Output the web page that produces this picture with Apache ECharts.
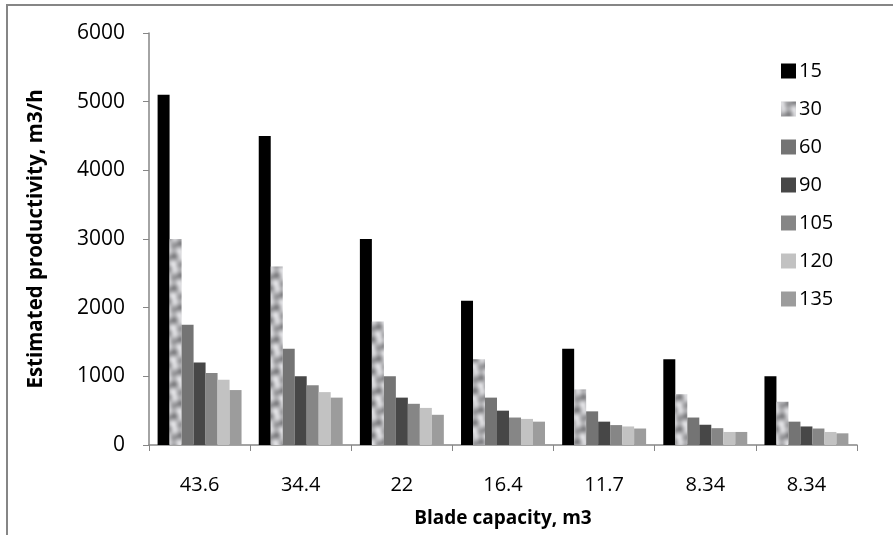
<!DOCTYPE html>
<html>
<head>
<meta charset="utf-8">
<title>Blade capacity</title>
<script src="https://cdn.jsdelivr.net/npm/echarts@6/dist/echarts.min.js"></script>
<style>
  html, body { margin: 0; padding: 0; background: #fff; }
  #main { width: 893px; height: 535px; }
</style>
</head>
<body>
<div id="main"></div>
<script>
// blade capacity (m3) on the x axis
var categories = ['43.6', '34.4', '22', '16.4', '11.7', '8.34', '8.34'];
var seriesNames = ['15', '30', '60', '90', '105', '120', '135'];

// estimated productivity, m3/h, one array per series
var s15  = [5100, 4500, 3000, 2100, 1400, 1250, 1000];
var s30  = [3000, 2600, 1800, 1250, 810, 740, 630];
var s60  = [1750, 1400, 1000, 690, 490, 400, 340];
var s90  = [1200, 1000, 690, 500, 340, 295, 270];
var s105 = [1050, 870, 600, 400, 290, 245, 240];
var s120 = [950, 770, 540, 380, 270, 190, 190];
var s135 = [800, 690, 440, 340, 240, 190, 170];
var allData = [s15, s30, s60, s90, s105, s120, s135];

// mottled grey texture like the "30" bars (tileable, built from sines)
function makeTexture() {
    var n = 32;
    var c = document.createElement('canvas');
    c.width = n; c.height = n;
    var ctx = c.getContext('2d');
    var img = ctx.createImageData(n, n);
    var w = 2 * Math.PI / n;
    for (var y = 0; y < n; y++) {
        for (var x = 0; x < n; x++) {
            var v = 0.5 * Math.sin(w * (2 * x + y) + 0.3)
                  + 0.45 * Math.cos(w * (x - 2 * y) + 1.1)
                  + 0.35 * Math.sin(w * (3 * x - y) + 2.0)
                  + 0.3 * Math.cos(w * (y * 3 + x) + 0.5);
            var g = 180 + 40 * v;
            if (v < -0.75) g = 115 + 45 * (v + 1.5);
            if (g < 85) g = 85;
            if (g > 225) g = 225;
            var k = (y * n + x) * 4;
            img.data[k] = g; img.data[k + 1] = g; img.data[k + 2] = g + 3; img.data[k + 3] = 255;
        }
    }
    ctx.putImageData(img, 0, 0);
    return c;
}

var colors = ['#000000', {image: makeTexture(), repeat: 'repeat'}, '#747474', '#474747', '#868686', '#c2c2c2', '#9c9c9c'];
var font = '"Open Sans", "Liberation Sans", sans-serif';

var myChart = echarts.init(document.getElementById('main'));

var series = [];
for (var i = 0; i < seriesNames.length; i++) {
    series.push({
        name: seriesNames[i],
        type: 'bar',
        data: allData[i],
        barGap: '0%',
        barCategoryGap: '17%',
        itemStyle: {color: colors[i]},
        animation: false
    });
}

var option = {
    backgroundColor: '#fff',
    animation: false,
    graphic: [{
        type: 'rect',
        shape: {x: 7, y: 5, width: 950, height: 600},
        style: {fill: 'none', stroke: '#868686', lineWidth: 2},
        silent: true
    }],
    grid: {left: 149, right: 36, top: 33, bottom: 90},
    legend: {
        orient: 'vertical',
        left: 776,
        top: 56,
        itemWidth: 15,
        itemHeight: 15,
        itemGap: 18,
        icon: 'rect',
        data: seriesNames,
        textStyle: {fontFamily: font, fontSize: 20, color: '#000', padding: [0, 0, 0, -2]}
    },
    xAxis: {
        type: 'category',
        data: categories,
        name: 'Blade capacity, m3',
        nameLocation: 'middle',
        nameGap: 64,
        nameTextStyle: {fontFamily: font, fontSize: 19, fontWeight: 'bold', color: '#000'},
        axisLine: {lineStyle: {color: '#868686', width: 1.5}},
        axisTick: {show: true, length: 6, lineStyle: {color: '#868686'}},
        axisLabel: {fontFamily: font, fontSize: 20, color: '#000', margin: 30}
    },
    yAxis: {
        type: 'value',
        min: 0,
        max: 6000,
        interval: 1000,
        name: 'Estimated productivity, m3/h',
        nameLocation: 'middle',
        nameGap: 102,
        nameTextStyle: {fontFamily: font, fontSize: 20.5, fontWeight: 'bold', color: '#000'},
        axisLine: {show: true, lineStyle: {color: '#868686', width: 1.5}},
        axisTick: {show: true, length: 6, lineStyle: {color: '#868686'}},
        axisLabel: {
            fontFamily: font, fontSize: 21, color: '#000', margin: 24,
            formatter: function (v) { return String(v); }
        },
        splitLine: {show: false}
    },
    series: series
};
myChart.setOption(option);
</script>
</body>
</html>
